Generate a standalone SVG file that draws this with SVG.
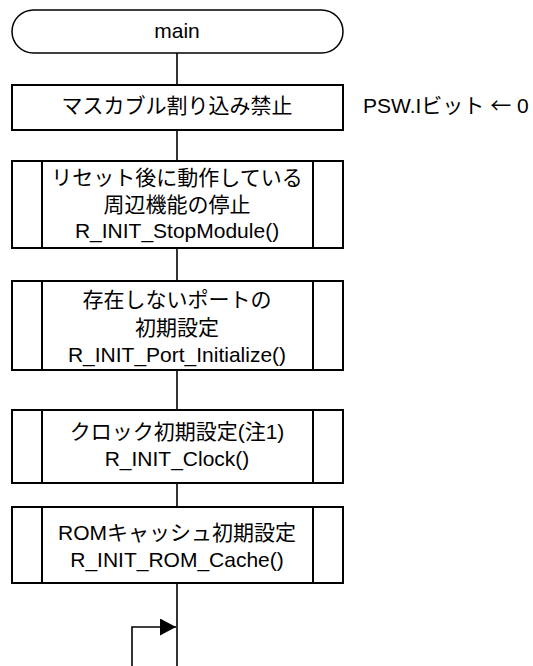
<svg xmlns="http://www.w3.org/2000/svg" width="533" height="666" viewBox="0 0 533 666">
<defs>
<style>
.t{font-family:"Liberation Sans","Noto Sans CJK JP",sans-serif;font-size:21px;fill:#000;text-anchor:middle}
.tl{font-family:"Liberation Sans","Noto Sans CJK JP",sans-serif;font-size:21px;fill:#000}
.cjk{font-family:"Noto Sans CJK JP",sans-serif}
.box{fill:#fff;stroke:#000;stroke-width:2}
.term{fill:#fff;stroke:#000;stroke-width:1.5}
.c{fill:none;stroke:#000;stroke-width:1.6}
</style>
<marker id="arr" markerWidth="16" markerHeight="17" refX="16" refY="8.5" orient="auto" markerUnits="userSpaceOnUse">
<path d="M0,0 L16,8.5 L0,17 Z" fill="#000"/>
</marker>
</defs>
<g id="connectors">
<line class="c" x1="177" y1="53" x2="177" y2="85"/>
<line class="c" x1="177" y1="130" x2="177" y2="161"/>
<line class="c" x1="177" y1="248" x2="177" y2="281"/>
<line class="c" x1="177" y1="370" x2="177" y2="410"/>
<line class="c" x1="177" y1="483" x2="177" y2="507"/>
<line class="c" x1="177" y1="583" x2="177" y2="666"/>
<polyline class="c" points="132,666 132,627 176,627" marker-end="url(#arr)"/>
</g>
<g id="start">
<rect class="term" x="12" y="10" width="331" height="43" rx="21.5" ry="21.5"/>
<text class="t" x="177" y="38">main</text>
</g>
<g id="mask">
<rect class="box" x="12" y="85" width="331" height="45"/>
<text class="t" x="177" y="113">マスカブル割り込み禁止</text>
</g>
<g id="note">
<text class="tl" x="363" y="113">PSW.Iビット <tspan class="cjk">←</tspan> 0</text>
</g>
<g id="stopmodule">
<rect class="box" x="12" y="161" width="331" height="87"/>
<line class="box" x1="42" y1="161" x2="42" y2="248"/>
<line class="box" x1="313" y1="161" x2="313" y2="248"/>
<text class="t" x="177" y="185">リセット後に動作している</text>
<text class="t" x="177" y="211.5">周辺機能の停止</text>
<text class="t" x="177" y="238">R_INIT_StopModule()</text>
</g>
<g id="port">
<rect class="box" x="12" y="281" width="331" height="89"/>
<line class="box" x1="42" y1="281" x2="42" y2="370"/>
<line class="box" x1="313" y1="281" x2="313" y2="370"/>
<text class="t" x="177" y="307">存在しないポートの</text>
<text class="t" x="177" y="334.5">初期設定</text>
<text class="t" x="177" y="362">R_INIT_Port_Initialize()</text>
</g>
<g id="clock">
<rect class="box" x="12" y="410" width="331" height="73"/>
<line class="box" x1="42" y1="410" x2="42" y2="483"/>
<line class="box" x1="313" y1="410" x2="313" y2="483"/>
<text class="t" x="177" y="439">クロック初期設定(注1)</text>
<text class="t" x="177" y="466">R_INIT_Clock()</text>
</g>
<g id="romcache">
<rect class="box" x="12" y="507" width="331" height="76"/>
<line class="box" x1="42" y1="507" x2="42" y2="583"/>
<line class="box" x1="313" y1="507" x2="313" y2="583"/>
<text class="t" x="177" y="540">ROMキャッシュ初期設定</text>
<text class="t" x="177" y="566.5">R_INIT_ROM_Cache()</text>
</g>
</svg>
